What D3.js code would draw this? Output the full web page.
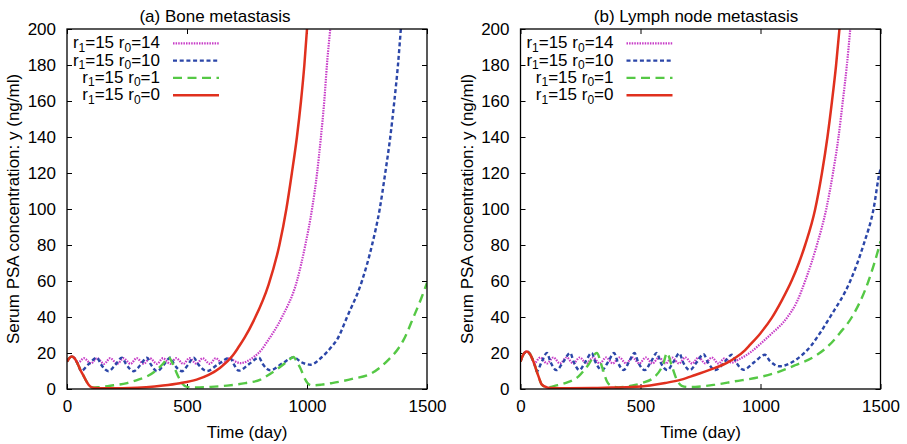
<!DOCTYPE html>
<html>
<head>
<meta charset="utf-8">
<script src="https://cdn.jsdelivr.net/npm/d3@7"></script>
<style>
  body { margin: 0; background: #fff; }
  text { font-family: "Liberation Sans", Arial, Helvetica, sans-serif; }
</style>
</head>
<body>
<div id="chart"></div>
<script>
// tick values
var timeTicks = [0, 500, 1000, 1500];
var psaTicks = [0, 20, 40, 60, 80, 100, 120, 140, 160, 180, 200];

// legend: r1 fixed, r0 per series (same order as the series below)
var r1 = 15;
var r0Values = [14, 10, 1, 0];

// (a) Bone metastasis, [time (day), PSA (ng/ml)]
var bone_r14 = [[0,15.2],[10,17.2],[20,18],[30,17.3],[40,15.2],[46,14.5],[70,17.1],[100,14.2],[125,17.1],[155,14],[180,17.1],[210,14],[235,17.1],[265,14],[290,17.1],[320,14],[345,17.1],[375,14],[400,17.1],[430,14],[455,17.1],[485,14],[510,17.1],[540,14],[565,17.1],[595,14],[620,17.1],[650,14],[672,17],[722,14.4],[780,18],[812,22],[830,25.5],[896,40],[958,60],[993,80],[1021,100],[1042,120],[1058,140],[1072,160],[1083,180],[1097,200]];
var bone_r10 = [[0,15.2],[10,17.2],[20,18],[30,17.3],[40,15.2],[50,12.3],[58,10],[90,13.8],[125,17.4],[140,14],[173,9.9],[200,13.2],[229,17.4],[245,14],[278,9.9],[305,13.2],[333,17.4],[348,14],[375,9.9],[402,13.2],[430,17.4],[445,14],[479,9.9],[503,13.2],[528,17.4],[545,14],[583,10],[630,13.8],[680,17.4],[694,14],[716,10.2],[760,14],[800,17.4],[815,14],[847,10.4],[900,14.5],[945,17.6],[975,15],[1015,13.5],[1060,17.5],[1104,23.7],[1125,27.4],[1167,40],[1229,60],[1271,80],[1303,100],[1326,120],[1347,140],[1364,160],[1379,180],[1391,200]];
var bone_r1 = [[0,15.2],[10,17.2],[20,18],[30,17.3],[40,15.2],[50,12.3],[58,10],[68,7.6],[80,4.5],[90,2.4],[104,0.9],[130,1.0],[180,1.8],[250,3.3],[300,5.3],[333,7],[375,10.7],[400,14],[424,17.6],[437,15],[451,10.7],[465,6.5],[480,3],[500,1.2],[530,0.9],[600,1.2],[667,1.9],[743,3.3],[806,5.2],[826,6.7],[882,11.7],[920,15.5],[944,17.8],[958,15],[972,11.7],[993,5.2],[1007,2.6],[1021,2],[1060,2.4],[1104,3.3],[1188,5.6],[1271,8.9],[1340,16.3],[1382,22.8],[1403,27.4],[1444,40],[1475,50],[1500,59]];
var bone_r0 = [[0,15.2],[10,17.2],[20,18],[30,17.3],[40,15.2],[50,12.3],[58,10],[68,7.6],[80,4.5],[90,2.4],[104,0.9],[120,0.5],[150,0.4],[200,0.4],[262,0.5],[330,1.0],[400,1.9],[470,3.2],[540,5.2],[590,7.8],[637,11.7],[693,19],[715,23.3],[740,28.5],[778,38],[840,58],[885,80],[914,100],[937,120],[958,140],[975,160],[989,180],[1000,200]];

// (b) Lymph node metastasis
var node_r14 = [[0,15.2],[12,19.2],[26,20.9],[40,19.3],[50,16.5],[57,14.3],[82,17.5],[110,14.2],[137,17.5],[165,14.2],[192,17.5],[220,14.2],[247,17.5],[275,14.2],[302,17.5],[330,14.2],[357,17.5],[385,14.2],[412,17.5],[440,14.2],[467,17.5],[495,14.2],[522,17.5],[550,14.2],[577,17.5],[605,14.2],[632,17.5],[660,14.2],[687,17.5],[715,14.2],[742,17.5],[770,14.2],[797,17.5],[825,14.2],[850,17],[880,14.6],[908,16.3],[964,21],[999,25],[1040,30],[1110,39.5],[1150,48],[1186,60],[1235,80],[1274,100],[1302,120],[1325,140],[1343,160],[1360,180],[1374,200]];
var node_r10 = [[0,15.2],[12,19.2],[26,20.9],[40,19.3],[50,16.5],[61,12.6],[68,9.8],[88,15],[110,20],[125,15],[150,10.5],[178,15],[207,20],[222,15],[245,10.5],[270,15],[297,20],[312,15],[340,10.5],[365,15],[390,20],[405,15],[430,10.5],[452,15],[475,20],[490,15],[518,10.5],[543,15],[568,20],[583,15],[612,10.5],[637,15],[662,19.8],[677,15],[706,10.5],[735,15],[763,19.4],[780,15],[812,10.5],[850,15],[881,19],[900,14.5],[929,10.7],[975,15],[1018,19],[1040,15.5],[1078,12.6],[1145,16],[1214,24.6],[1250,31.5],[1290,40],[1374,60],[1429,80],[1471,100],[1496,120],[1500,122]];
var node_r1 = [[0,15.2],[12,19.2],[26,20.9],[40,19.3],[50,16.5],[61,12.6],[68,9.6],[75,7],[89,2.4],[110,0.9],[150,2],[186,3.3],[242,7],[283,13.5],[318,20],[339,12.6],[360,4.3],[381,1.5],[408,0.9],[460,1.8],[506,3.3],[561,7],[596,14.4],[610,20],[631,12.6],[651,5.2],[672,1.8],[700,1.1],[728,1.2],[811,2.4],[894,4.3],[978,6.1],[1061,8.9],[1144,13.2],[1228,18.3],[1288,24.6],[1330,31],[1381,40],[1450,60],[1496,80],[1500,82]];
var node_r0 = [[0,15.2],[12,19.2],[26,20.9],[40,19.3],[50,16.5],[61,12.6],[68,9.6],[75,7],[89,2.4],[110,0.9],[130,0.5],[200,0.4],[300,0.5],[380,0.8],[464,1.1],[540,2],[603,3.3],[670,5.2],[728,7.8],[811,11.7],[860,14.5],[894,17.2],[935,21.5],[957,24.6],[1000,31],[1047,39.5],[1090,49.5],[1131,60.5],[1160,70],[1186,80],[1228,100],[1256,120],[1279,140],[1298,160],[1315,180],[1329,200]];

var styles = [
    { color: '#c73cc7', width: 2.2, dash: '1.5,1.1' },
    { color: '#2b46a8', width: 2.4, dash: '4,2.7' },
    { color: '#55c845', width: 2.4, dash: '9,5.5' },
    { color: '#e0301e', width: 2.5, dash: null }
];

var plotW = 360, plotH = 360, marginTop = 29;

var panels = [
    { id: 'a', x0: 67, titleX: 215, title: '(a) Bone metastasis', series: [bone_r14, bone_r10, bone_r1, bone_r0] },
    { id: 'b', x0: 520.5, titleX: 696, title: '(b) Lymph node metastasis', series: [node_r14, node_r10, node_r1, node_r0] }
];

var svg = d3.select('#chart').append('svg')
    .attr('width', 907)
    .attr('height', 444);

var defs = svg.append('defs');

panels.forEach(function (p) {
    var g = svg.append('g')
        .attr('transform', 'translate(' + p.x0 + ',' + marginTop + ')');

    var x = d3.scaleLinear().domain([0, 1500]).range([0, plotW]);
    var y = d3.scaleLinear().domain([0, 200]).range([plotH, 0]);

    defs.append('clipPath').attr('id', 'clip-' + p.id)
        .append('rect').attr('width', plotW).attr('height', plotH);

    // axes: inward ticks, mirrored on top/right
    var yAxis = d3.axisLeft(y).tickValues(psaTicks).tickFormat(d3.format('d'))
        .tickSizeInner(-5).tickSizeOuter(0).tickPadding(11);
    var xAxis = d3.axisBottom(x).tickValues(timeTicks).tickFormat(d3.format('d'))
        .tickSizeInner(-5).tickSizeOuter(0).tickPadding(11);

    g.append('g').attr('class', 'axis').call(yAxis);
    g.append('g').attr('class', 'axis').attr('transform', 'translate(0,' + plotH + ')').call(xAxis);
    g.append('g').attr('class', 'axis').attr('transform', 'translate(' + plotW + ',0)')
        .call(d3.axisRight(y).tickValues(psaTicks).tickSizeInner(-5).tickSizeOuter(0).tickFormat(''));
    g.append('g').attr('class', 'axis')
        .call(d3.axisTop(x).tickValues(timeTicks).tickSizeInner(-5).tickSizeOuter(0).tickFormat(''));

    g.selectAll('.axis .domain').remove();
    g.selectAll('.axis')
        .attr('font-size', 17)
        .attr('font-family', '"Liberation Sans", Arial, sans-serif');
    g.selectAll('.axis text').attr('fill', '#000');
    g.selectAll('.axis line').attr('stroke', '#000').attr('stroke-width', 1);

    // curves
    var line = d3.line()
        .x(d => x(d[0]))
        .y(d => y(d[1]))
        .curve(d3.curveMonotoneX);

    var curves = g.append('g').attr('clip-path', 'url(#clip-' + p.id + ')');
    p.series.forEach(function (s, i) {
        curves.append('path')
            .datum(s)
            .attr('d', line)
            .attr('fill', 'none')
            .attr('stroke', styles[i].color)
            .attr('stroke-width', styles[i].width)
            .attr('stroke-dasharray', styles[i].dash);
    });

    // frame
    g.append('rect')
        .attr('width', plotW)
        .attr('height', plotH)
        .attr('fill', 'none')
        .attr('stroke', '#000')
        .attr('stroke-width', 1.3);

    // legend
    r0Values.forEach(function (r0, i) {
        var rowY = 14.3 + 17.3 * i;
        var t = g.append('text')
            .attr('x', 93)
            .attr('y', rowY + 5)
            .attr('text-anchor', 'end')
            .attr('font-size', 17);
        t.append('tspan').text('r');
        t.append('tspan').attr('dy', 3.5).attr('font-size', 12).text('1');
        t.append('tspan').attr('dy', -3.5).text('=' + r1 + ' r');
        t.append('tspan').attr('dy', 3.5).attr('font-size', 12).text('0');
        t.append('tspan').attr('dy', -3.5).text('=' + r0);

        g.append('line')
            .attr('x1', 106).attr('x2', 152)
            .attr('y1', rowY).attr('y2', rowY)
            .attr('stroke', styles[i].color)
            .attr('stroke-width', styles[i].width)
            .attr('stroke-dasharray', styles[i].dash);
    });

    // titles
    g.append('text')
        .attr('x', p.titleX - p.x0)
        .attr('y', 22 - marginTop)
        .attr('text-anchor', 'middle')
        .attr('font-size', 17)
        .text(p.title);

    g.append('text')
        .attr('x', plotW / 2)
        .attr('y', 438 - marginTop)
        .attr('text-anchor', 'middle')
        .attr('font-size', 17)
        .text('Time (day)');

    g.append('text')
        .attr('transform', 'translate(' + (19 - 67) + ',' + (plotH / 2) + ') rotate(-90)')
        .attr('text-anchor', 'middle')
        .attr('font-size', 17)
        .text('Serum PSA concentration: y (ng/ml)');
});
</script>
</body>
</html>
